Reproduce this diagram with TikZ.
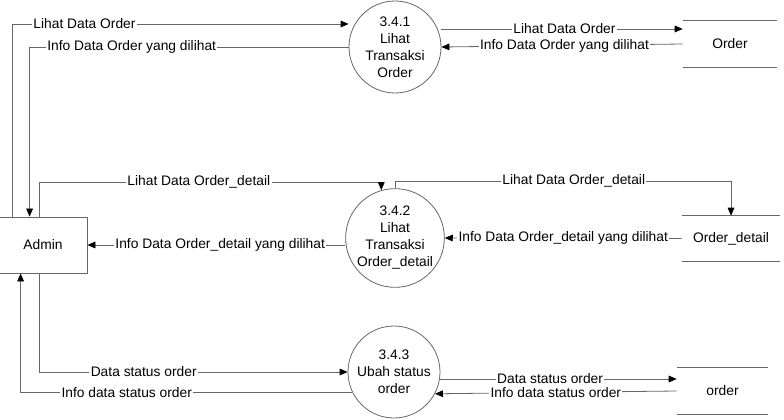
\documentclass[tikz,border=0pt]{standalone}
\usepackage{fontspec}
\setmainfont{Liberation Sans}
\usetikzlibrary{arrows.meta,calc}
\begin{document}
\begin{tikzpicture}[x=0.75pt,y=-0.75pt,
  every node/.style={font=\fontsize{10.35}{12.75}\selectfont},
  proc/.style={draw=black!60, line width=0.6pt, circle, minimum size=69pt, inner sep=0pt, align=center},
  ent/.style={draw=black!60, line width=0.6pt, rectangle, minimum width=66pt, minimum height=42pt},
  store/.style={inner sep=0pt},
  storeline/.style={draw=black!60, line width=0.7pt},
  flow/.style={draw=black!60, line width=0.6pt, -{Triangle[length=6pt,width=5pt,color=black]}},
  lbl/.style={fill=white, inner sep=1pt}
]
\useasboundingbox (0,0) rectangle (784,420);

% entities
\node[ent] (admin) at (43,245) {Admin};

% processes
\node[proc] (p1) at (395,47) {3.4.1\\Lihat\\Transaksi\\Order};
\node[proc] (p2) at (395,238) {3.4.2\\Lihat\\Transaksi\\Order\_detail};
\node[proc] (p3) at (394,372) {3.4.3\\Ubah status\\order};

% data stores
\node[store, minimum width=70.5pt, minimum height=34.5pt] (s1) at (730,44) {Order};
\node[store, minimum width=73.5pt, minimum height=33.75pt] (s2) at (731,238.5) {Order\_detail};
\node[store, minimum width=68.25pt, minimum height=34.5pt] (s3) at (722.5,391) {order};
\foreach \s in {s1,s2,s3}{
  \draw[storeline] (\s.north west) -- (\s.north east) (\s.south west) -- (\s.south east);
}

% flows Admin <-> 3.4.1
\draw[flow] ($(admin.north west)+(14,0)$) |- ($(p1.west)+(0,-23)$)
  node[lbl, pos=0.607] {Lihat Data Order};
\draw[flow] (p1.west) -| ($(admin.north west)+(31,0)$)
  node[lbl, pos=0.34] {Info Data Order yang dilihat};

% 3.4.1 <-> Order
\draw[flow] ($(p1.east)+(0,-18)$) -- ($(s1.west)+(0,-15)$)
  node[lbl, pos=0.51] {Lihat Data Order};
\draw[flow] (s1.west) -- (p1.east)
  node[lbl, pos=0.49] {Info Data Order yang dilihat};

% Admin <-> 3.4.2
\draw[flow] ($(admin.north west)+(41,0)$) |- ($(p2.106)+(0,-8)$)
  node[lbl, pos=0.733] {Lihat Data Order\_detail} -- (p2.106);
\draw[flow] (p2.west |- admin.east) -- (admin.east)
  node[lbl, pos=0.485] {Info Data Order\_detail yang dilihat};

% 3.4.2 <-> Order_detail
\draw[flow] (p2.north) -- ($(p2.north)+(0,-7)$) -| (s2.north)
  node[lbl, pos=0.266] {Lihat Data Order\_detail};
\draw[flow] (s2.west) -- (p2.east)
  node[lbl, pos=0.5] {Info Data Order\_detail yang dilihat};

% Admin <-> 3.4.3
\draw[flow] ($(admin.south west)+(41,0)$) |- (p3.west)
  node[lbl, pos=0.669] {Data status order};
\draw[flow] (p3.206) -| ($(admin.south west)+(22,0)$)
  node[lbl, pos=0.34] {Info data status order};

% 3.4.3 <-> order
\draw[flow] ($(p3.east)+(0,7)$) -- ($(s3.west)+(0,-12)$)
  node[lbl, pos=0.464] {Data status order};
\draw[flow] (s3.west) -- (p3.-28.5)
  node[lbl, pos=0.5] {Info data status order};
\end{tikzpicture}
\end{document}
